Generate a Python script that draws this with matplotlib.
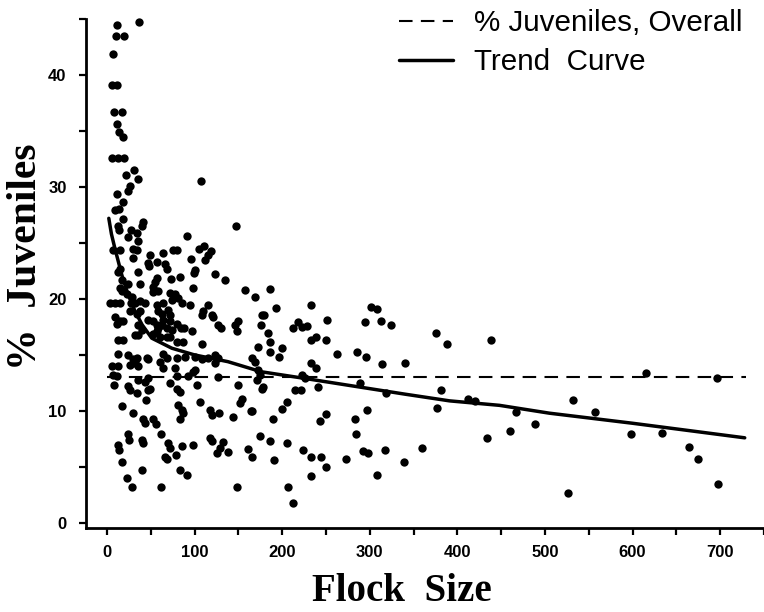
import matplotlib
matplotlib.use("Agg")
import matplotlib.pyplot as plt
from matplotlib.ticker import MultipleLocator

# ---- data ----
flock_size = [
    11, 36.5, 10, 19.7, 7.2, 5.3, 11, 8, 16.7, 11,
    13.7, 18.6, 5.3, 12.2, 19.7, 31, 21.7, 35, 25.9, 107.5,
    11, 24, 17.9, 9, 14, 18.6, 41.4, 39.6, 12.9, 13.7,
    27.4, 23.6, 34.6, 35.3, 7.2, 14.8, 30, 33.9, 91.6, 147,
    64, 75.6, 79.5, 105, 110.6, 119, 115.5, 49, 96, 111.7,
    47, 48, 29.2, 56.6, 66.1, 68, 14.8, 12.2, 35.7, 100,
    99, 123, 134.5, 73, 83, 56.6, 54.7, 52.8, 16.8, 24.3,
    37.6, 97.7, 14.8, 16.8, 58.5, 52.8, 71.8, 77.5, 81.3, 157.4,
    168.8, 22.5, 28.2, 3.4, 9.1, 14.8, 27.4, 31.9, 37.6, 43.3,
    56.6, 64.2, 73.8, 85.9, 94.6, 115.5, 26.2, 33.9, 37.6, 58.5,
    62.4, 69.9, 71.8, 108, 109.8, 119.4, 9.1, 14.8, 47.1, 52.8,
    56.6, 58.5, 64.2, 71.8, 68, 73.8, 79.5, 62.4, 121.2, 127,
    130, 149.7, 146, 176.4, 175.3, 35.7, 39.6, 11, 17.9, 84.4,
    88.1, 96.6, 147.9, 12.9, 18.6, 31.9, 35.7, 52.8, 56.6, 60.4,
    68, 71.8, 79.5, 87, 108.7, 172.5, 12.9, 24.3, 33.9, 45.2,
    64.2, 68, 79.5, 89, 115.5, 123.1, 127, 5.3, 12.9, 26.2,
    31.9, 35, 30, 47.1, 60.4, 64.2, 77.5, 100.3, 108, 123,
    165, 168.8, 172.5, 11, 7.2, 35.7, 43.3, 47.1, 92.7, 98.4,
    100.3, 79.5, 127, 170.7, 174.5, 8, 24.3, 26.2, 33.9, 47.1,
    49, 71.8, 79.5, 83.2, 102.3, 149, 176.4, 44, 16.8, 81.3,
    85.1, 87, 83.2, 106, 117.4, 119.4, 127.7, 153.6, 151.7, 163.9,
    144, 29.2, 41.4, 43.3, 52.8, 55.5, 61.1, 24.3, 25.1, 39.6,
    41.4, 12.9, 13.7, 69.2, 71.8, 85.1, 98.4, 117.4, 119.4, 132.6,
    128.9, 125, 138.3, 174.5, 160.4, 165, 66.1, 68, 78.4, 16.8,
    40.3, 83.2, 90.9, 23.2, 28.2, 61.1, 147.9, 186.6, 192.7, 179,
    183.9, 186.6, 185.9, 199.2, 196.5, 177.5, 165, 189, 199.2, 206,
    186.6, 190.4, 205.6, 206.7, 212.4, 212.4, 218.1, 222, 228.4, 233.4,
    232.6, 239.1, 249.7, 251.2, 233.4, 239.1, 222, 225.8, 214.4, 220.9,
    240.9, 242.9, 250.5, 223.8, 232.6, 244.8, 249.7, 232.6, 263, 273.3,
    285.4, 296, 294.2, 301, 308.7, 313.2, 323.8, 314.3, 288.5, 318.1,
    282.8, 284.7, 297.3, 292.3, 298, 317, 308.7, 338.7, 339.8, 359.5,
    375.9, 388, 381.6, 376.6, 412, 419.6, 437.9, 433.6, 460, 467.2,
    488, 531.7, 526.8, 557.2, 598.3, 615.4, 633.2, 664.8, 675, 695.9,
    697.8,
]
pct_juveniles = [
    44.5, 44.7, 43.5, 43.5, 41.9, 39.1, 39.1, 36.7, 36.7, 35.6,
    34.9, 34.5, 32.6, 32.6, 32.6, 31.5, 31.1, 30.7, 30.1, 30.5,
    29.4, 29.6, 28.7, 27.9, 28, 27.1, 26.9, 26.5, 26.5, 26.2,
    26.2, 25.5, 25.9, 25.2, 24.4, 24.4, 24.5, 24.4, 25.6, 26.5,
    24.1, 24.4, 24.4, 24.5, 24.7, 24.3, 23.9, 23.9, 23.6, 23.5,
    23.2, 22.9, 23.7, 23.3, 23.1, 22.7, 22.7, 22.4, 22.4, 22.6,
    22.3, 22.2, 21.7, 21.8, 22, 21.9, 21.5, 21.1, 21.7, 21.3,
    21.3, 21, 21, 20.7, 20.7, 20.6, 20.5, 20.4, 20.1, 20.8,
    20.2, 20.4, 20.2, 19.6, 19.6, 19.6, 19.6, 19.6, 19.8, 19.6,
    19.5, 19.6, 19.9, 19.6, 19.5, 19.5, 18.9, 18.7, 18.9, 18.9,
    18.7, 19, 18.6, 18.6, 18.9, 18.6, 18.4, 18, 18.1, 18,
    17.7, 17.4, 18.1, 18, 17.4, 17.2, 17.8, 17.7, 18.4, 17.7,
    17.4, 18, 17.7, 18.6, 17.7, 17.7, 17.2, 17.8, 18, 17.4,
    17.4, 17.1, 17.1, 16.3, 16.3, 16.8, 16.8, 16.9, 17.1, 16.6,
    16.6, 16.6, 16.2, 16.2, 16, 15.7, 15.1, 15, 14.7, 14.7,
    15.1, 14.7, 14.7, 14.8, 14.7, 15, 14.7, 14, 14, 14.1,
    14.3, 14, 14.6, 14.6, 14.4, 13.8, 13.8, 14.8, 14.6, 14.3,
    14.7, 14.4, 13.7, 13.1, 13.2, 12.8, 12.6, 12.9, 13.1, 13.5,
    13.7, 13.1, 13, 12.8, 13.2, 12.3, 12.2, 11.9, 11.6, 11.9,
    12, 12.5, 12, 11.7, 12.3, 12.3, 12, 11, 10.4, 10.5,
    10.1, 9.8, 9.3, 10.8, 10.1, 9.6, 9.8, 11.1, 10.7, 10,
    9.5, 9.8, 9.3, 8.9, 9.3, 8.8, 7.9, 7.9, 7.4, 7.4,
    7.1, 7, 6.5, 7.1, 6.7, 6.9, 7, 7.6, 7.3, 7.2,
    6.7, 6.2, 6.3, 7.8, 6.6, 5.9, 5.9, 5.7, 6.1, 5.4,
    4.7, 4.7, 4.3, 4, 3.2, 3.2, 3.2, 20.9, 19.2, 18.6,
    17, 16.2, 15.3, 15.6, 14.8, 12.1, 10, 9.3, 10.2, 10.8,
    7.3, 5.6, 7.1, 3.2, 1.8, 17.4, 17.9, 17.5, 17.6, 19.5,
    16.3, 16.6, 16.3, 18.1, 14.3, 13.8, 13.2, 12.9, 11.9, 11.9,
    12.1, 9.1, 9.7, 6.5, 5.9, 5.9, 5, 4.2, 15.1, 5.7,
    15.3, 14.8, 17.9, 19.3, 19.1, 18, 17.7, 14.2, 12.5, 11.6,
    9.3, 7.9, 10.1, 6.4, 6.2, 6.5, 4.3, 5.4, 14.3, 6.7,
    17, 16, 11.9, 10.3, 11.1, 10.9, 16.3, 7.6, 8.2, 9.9,
    8.8, 11, 2.7, 9.9, 7.9, 13.4, 8, 6.8, 5.7, 12.9,
    3.5,
]

trend_x = [2, 5, 9, 17, 24, 32, 40, 51, 74, 100, 138, 176, 226, 283, 340, 391, 448, 505, 600, 728]
trend_y = [27.2, 25.8, 24.5, 22.1, 20.4, 18.9, 17.7, 16.5, 15.6, 15.0, 14.4, 13.5, 12.9, 12.2, 11.5, 10.9, 10.5, 9.8, 8.9, 7.6]

overall_x = [0, 729]
overall_pct = 13.0

x_ticks = [0, 100, 200, 300, 400, 500, 600, 700]
y_ticks = [0, 10, 20, 30, 40]

legend_labels = ["% Juveniles, Overall", "Trend  Curve"]

# ---- figure ----
fig = plt.figure(figsize=(7.64, 6.12), dpi=100)
ax = fig.add_axes([0.1126, 0.1373, 0.8874, 0.8317])

ax.scatter(flock_size, pct_juveniles, s=36, color="black", linewidths=0, zorder=3, clip_on=False)
dash_line, = ax.plot(overall_x, [overall_pct, overall_pct], color="black", lw=1.5,
                     linestyle=(0, (6.5, 4.0)), zorder=2)
trend_line, = ax.plot(trend_x, trend_y, color="black", lw=2.5, solid_capstyle="round", zorder=2)

ax.set_xlim(-24, 750)
ax.set_ylim(-0.45, 45)

for side in ("top", "right"):
    ax.spines[side].set_visible(False)
for side in ("left", "bottom"):
    ax.spines[side].set_linewidth(2.0)

ax.set_xticks(x_ticks)
ax.set_yticks(y_ticks)
ax.xaxis.set_minor_locator(MultipleLocator(50))
ax.yaxis.set_minor_locator(MultipleLocator(5))
ax.tick_params(which="both", direction="out", length=5, width=1.6, color="black")
ax.tick_params(axis="x", which="major", pad=7)
ax.tick_params(axis="y", which="major", pad=9)
for lab in ax.get_xticklabels() + ax.get_yticklabels():
    lab.set_fontfamily("Liberation Sans")
    lab.set_fontweight("bold")
    lab.set_fontsize(12)

ax.set_xlabel("Flock  Size", fontfamily="Liberation Serif", fontweight="bold", fontsize=28)
ax.set_ylabel("%  Juveniles", fontfamily="Liberation Serif", fontweight="bold", fontsize=30)
ax.xaxis.set_label_coords(0.466, -0.089)
ax.yaxis.set_label_coords(-0.06, 0.532)

leg = ax.legend([dash_line, trend_line], legend_labels, loc="upper right",
                bbox_to_anchor=(0.972, 0.985), bbox_transform=fig.transFigure,
                frameon=False, prop={"family": "Liberation Sans", "size": 21.3},
                handlelength=1.85, handletextpad=0.7, labelspacing=0.38,
                borderpad=0, borderaxespad=0)

fig.savefig("out.png", dpi=100)
